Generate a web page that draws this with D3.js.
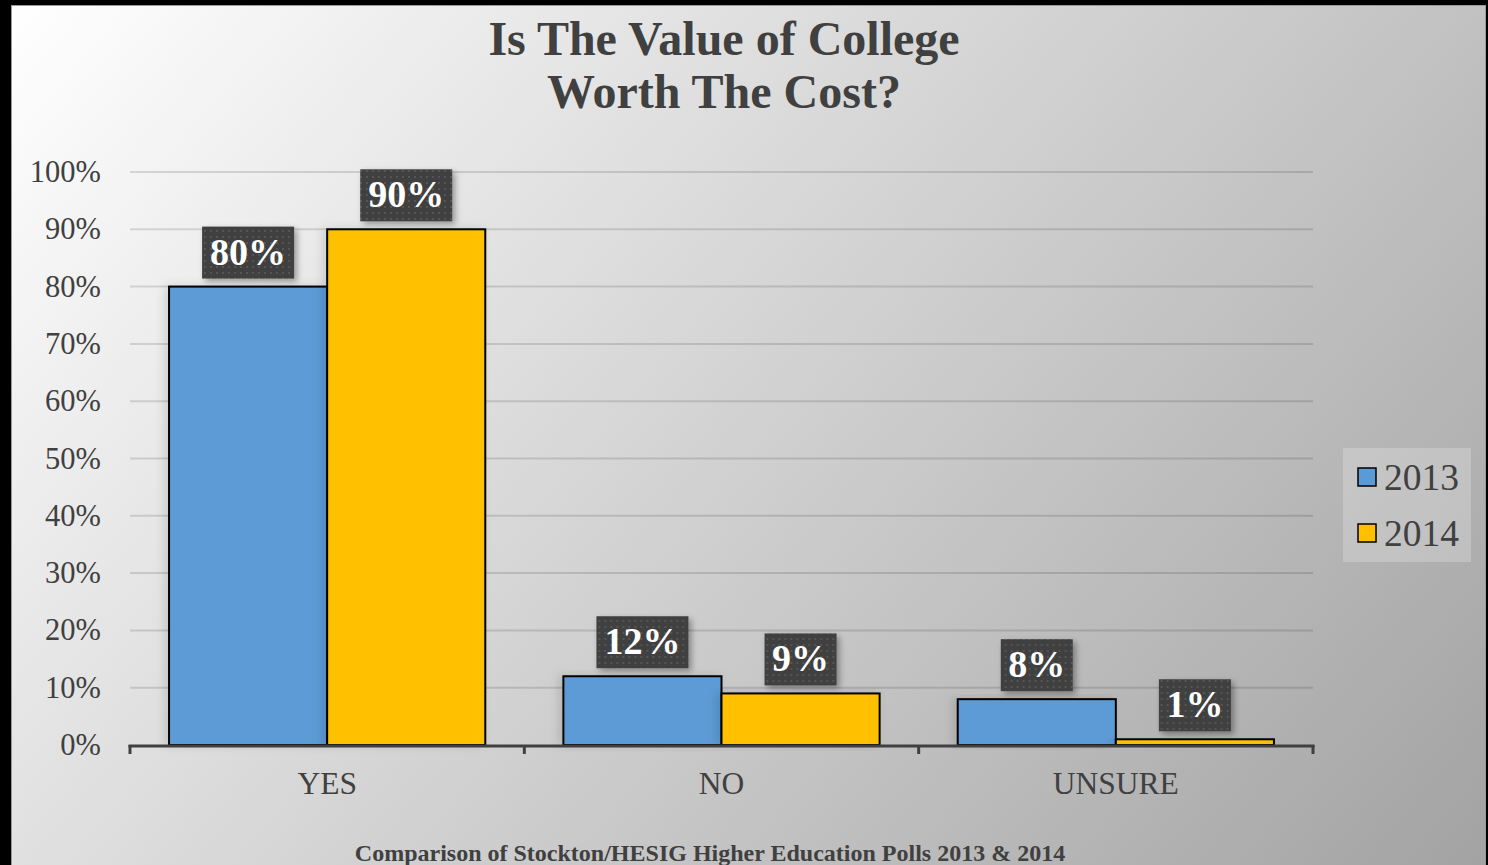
<!DOCTYPE html>
<html><head><meta charset="utf-8">
<script src="https://cdn.jsdelivr.net/npm/d3@7"></script>
<style>html,body{margin:0;padding:0;background:#000;overflow:hidden}svg{display:block}</style>
</head><body>
<script>
const categories = ["YES", "NO", "UNSURE"];
const seriesNames = ["2013", "2014"];
const values2013 = [80, 12, 8];
const values2014 = [90, 9, 1];
const yTicks = [0, 10, 20, 30, 40, 50, 60, 70, 80, 90, 100];
const colors = ["#5B9BD5", "#FFC000"];
const titleLines = ["Is The Value of College", "Worth The Cost?"];
const subtitle = "Comparison of Stockton/HESIG Higher Education Polls 2013 & 2014";

const W = 1488, H = 865;
const svg = d3.select("body").append("svg").attr("width", W).attr("height", H);
const defs = svg.append("defs");
const grad = defs.append("linearGradient").attr("id", "bg")
  .attr("gradientUnits", "userSpaceOnUse").attr("x1", 11).attr("y1", 5).attr("x2", 1300).attr("y2", 1100);
grad.append("stop").attr("offset", 0).attr("stop-color", "#ffffff");
grad.append("stop").attr("offset", 1).attr("stop-color", "#a2a2a2");
const pat = defs.append("pattern").attr("id", "dots").attr("patternUnits", "userSpaceOnUse")
  .attr("width", 6).attr("height", 6);
pat.append("rect").attr("width", 6).attr("height", 6).attr("fill", "#3f3f3f");
pat.append("rect").attr("x", 2).attr("y", 2).attr("width", 2).attr("height", 2).attr("fill", "#555");
const sh = defs.append("filter").attr("id", "shadow").attr("x", -0.2).attr("y", -0.2).attr("width", 1.5).attr("height", 1.5);
sh.append("feDropShadow").attr("dx", 3).attr("dy", 3).attr("stdDeviation", 3).attr("flood-color", "#000").attr("flood-opacity", 0.35);
const bsh = defs.append("filter").attr("id", "bshadow").attr("x", -0.3).attr("y", -0.1).attr("width", 1.6).attr("height", 1.2);
bsh.append("feDropShadow").attr("dx", -4).attr("dy", 0).attr("stdDeviation", 5).attr("flood-color", "#000").attr("flood-opacity", 0.12);

// frame
svg.append("rect").attr("x", 0).attr("y", 0).attr("width", W).attr("height", H).attr("fill", "#000");
svg.append("rect").attr("x", 11).attr("y", 5).attr("width", 1475).attr("height", H - 5).attr("fill", "#9a9a9a");
svg.append("rect").attr("x", 12).attr("y", 6).attr("width", 1473).attr("height", H - 6).attr("fill", "url(#bg)");

const serif = "'Liberation Serif','Times New Roman',serif";
const txt = "#404040";

// title
svg.append("text").attr("x", 724).attr("text-anchor", "middle")
  .attr("font-family", serif).attr("font-weight", "bold").attr("font-size", 48).attr("fill", txt)
  .selectAll("tspan").data(titleLines).join("tspan")
  .attr("x", 724).attr("y", (d, i) => 55 + i * 53).text(d => d);

const x0 = d3.scaleBand().domain(categories).range([130, 1313]).padding(0);
const x1 = d3.scaleBand().domain(seriesNames).range([0, x0.bandwidth()]).paddingInner(0).paddingOuter(0.247);
const y = d3.scaleLinear().domain([0, 100]).range([745, 172]);

// gridlines
svg.append("g").selectAll("line").data(yTicks.filter(t => t > 0)).join("line")
  .attr("x1", 130).attr("x2", 1313).attr("y1", d => y(d)).attr("y2", d => y(d))
  .attr("stroke", "#000").attr("stroke-opacity", 0.13).attr("stroke-width", 2);

// y labels
svg.append("g").selectAll("text").data(yTicks).join("text")
  .attr("x", 101).attr("y", d => y(d) + 10).attr("text-anchor", "end")
  .attr("font-family", serif).attr("font-size", 30.5).attr("fill", txt)
  .text(d => d + "%");

const data = categories.map((c, i) => ({ cat: c, vals: [values2013[i], values2014[i]] }));

// bars
const groups = svg.append("g").selectAll("g").data(data).join("g")
  .attr("transform", d => `translate(${x0(d.cat)},0)`);
groups.selectAll("rect").data(d => d.vals.map((v, j) => ({ v, s: seriesNames[j], j }))).join("rect")
  .attr("x", d => x1(d.s)).attr("width", x1.bandwidth())
  .attr("y", d => y(d.v)).attr("height", d => y(0) - y(d.v))
  .attr("fill", d => colors[d.j]).attr("stroke", "#000").attr("stroke-width", 2)
  .attr("filter", "url(#bshadow)");

// axis
const ax = svg.append("g");
ax.append("line").attr("x1", 128.5).attr("x2", 1314.5).attr("y1", 746).attr("y2", 746)
  .attr("stroke", "#404040").attr("stroke-width", 3);
const bounds = categories.map(c => x0(c)).concat([x0.range()[1]]);
ax.selectAll(".tk").data(bounds).join("line").attr("class", "tk")
  .attr("x1", d => d).attr("x2", d => d).attr("y1", 745).attr("y2", 754)
  .attr("stroke", "#404040").attr("stroke-width", 3);
ax.selectAll("text").data(categories).join("text")
  .attr("x", d => x0(d) + x0.bandwidth() / 2).attr("y", 794).attr("text-anchor", "middle")
  .attr("font-family", serif).attr("font-size", 31.5).attr("fill", txt).text(d => d);

// data labels
groups.each(function(d) {
  const g = d3.select(this);
  d.vals.forEach((v, j) => {
    const cx = x1(seriesNames[j]) + x1.bandwidth() / 2;
    const label = v + "%";
    const w = label.length === 3 ? 92 : 72;
    const h = 52;
    const top = y(v) - 60;
    g.append("rect").attr("x", cx - w / 2).attr("y", top).attr("width", w).attr("height", h)
      .attr("fill", "url(#dots)").attr("filter", "url(#shadow)");
    g.append("text").attr("x", cx).attr("y", top + 38).attr("text-anchor", "middle")
      .attr("font-family", serif).attr("font-weight", "bold").attr("font-size", 38).attr("fill", "#fff")
      .text(label);
  });
});

// legend
const lg = svg.append("g").attr("transform", "translate(1343,448)");
lg.append("rect").attr("width", 128).attr("height", 114).attr("fill", "#fff").attr("fill-opacity", 0.22);
seriesNames.forEach((s, i) => {
  lg.append("rect").attr("x", 15).attr("y", 20 + i * 56).attr("width", 18).attr("height", 18)
    .attr("fill", colors[i]).attr("stroke", "#000").attr("stroke-width", 1.5);
  lg.append("text").attr("x", 41).attr("y", 42 + i * 56)
    .attr("font-family", serif).attr("font-size", 37.5).attr("fill", txt).text(s);
});

// subtitle
svg.append("text").attr("x", 710).attr("y", 861).attr("text-anchor", "middle")
  .attr("font-family", serif).attr("font-weight", "bold").attr("font-size", 24).attr("fill", txt)
  .text(subtitle);
</script>
</body></html>
